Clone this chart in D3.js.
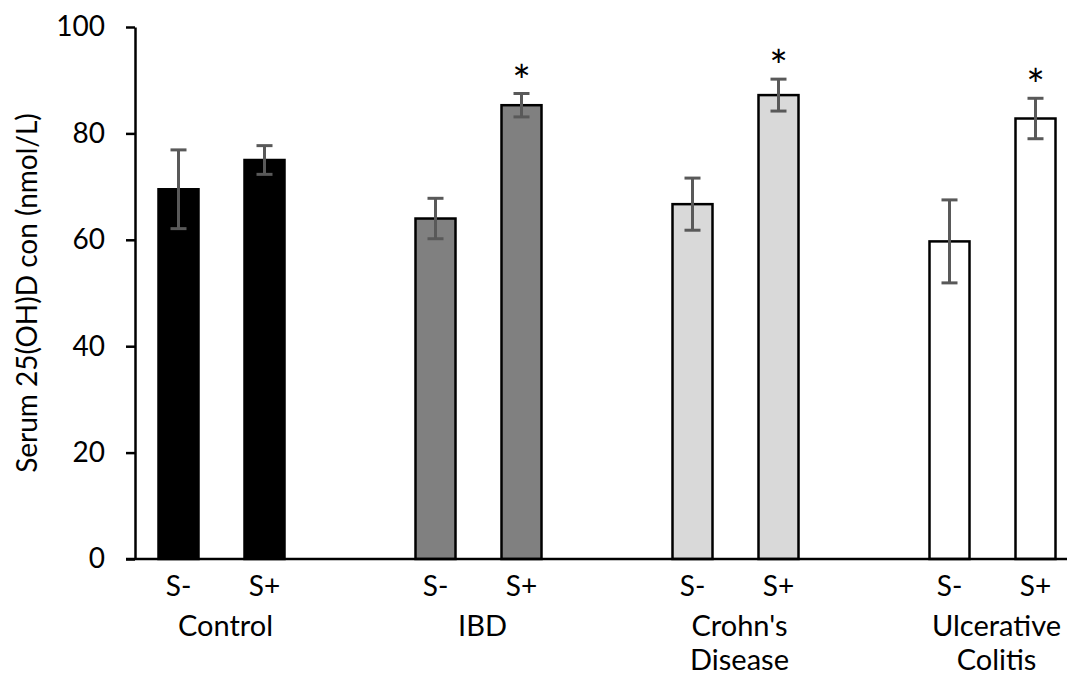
<!DOCTYPE html>
<html>
<head>
<meta charset="utf-8">
<script src="https://cdn.jsdelivr.net/npm/d3@7"></script>
<style>
  body { margin: 0; background: #fff; }
  text { font-family: Lato, "Open Sans", sans-serif; fill: #000; }
</style>
</head>
<body>
<div id="chart"></div>
<script>
const width = 1067
const height = 677

// values
const groups = ["Control", "IBD", "Crohn's Disease", "Ulcerative Colitis"]
const groupLines = [["Control"], ["IBD"], ["Crohn's", "Disease"], ["Ulcerative", "Colitis"]]
const subgroups = ["S-", "S+"]
const groupColors = ["#000000", "#808080", "#d9d9d9", "#ffffff"]
const means = [[69.5, 75.0], [64.0, 85.3], [66.7, 87.2], [59.7, 82.8]]
const errors = [[7.4, 2.7], [3.8, 2.2], [4.9, 3.0], [7.8, 3.8]]
const significant = [[false, false], [false, true], [false, true], [false, true]]
const yTicks = [0, 20, 40, 60, 80, 100]

const axisX = 135
const axisBottom = 559
const axisTop = 27
const barWidth = 40

const svg = d3.select("#chart").append("svg")
    .attr("width", width)
    .attr("height", height)

const y = d3.scaleLinear().domain([0, 100]).range([axisBottom, axisTop])

// groups sit on a band scale, the two bars in each group on a point scale
const x = d3.scaleBand().domain(groups).range([93, 93 + 257 * 4])
const xSub = d3.scalePoint().domain(subgroups).range([-43, 43])

function groupCenter(g) { return x(g) + x.bandwidth() / 2 }

// y axis
const yAxis = svg.append("g")
    .attr("transform", "translate(" + axisX + ",0)")
    .call(d3.axisLeft(y).tickValues(yTicks).tickSize(9).tickPadding(21).tickSizeOuter(0))
yAxis.select(".domain").attr("stroke", "#000").attr("stroke-width", 2.5)
yAxis.selectAll(".tick line").attr("stroke", "#000").attr("stroke-width", 2.5)
yAxis.selectAll(".tick text")
    .style("font-size", "28px")
    .style("font-family", "Lato, 'Open Sans', sans-serif")
    .attr("fill", "#000")

svg.append("text")
    .attr("transform", "translate(30," + ((axisTop + axisBottom) / 2) + ") rotate(-90)")
    .attr("text-anchor", "middle")
    .attr("dominant-baseline", "middle")
    .style("font-size", "28px")
    .text("Serum 25(OH)D con (nmol/L)")

// bars
const rows = []
groups.forEach(function(g, gi) {
  subgroups.forEach(function(s, si) {
    rows.push({group: g, gi: gi, sub: s, mean: means[gi][si], err: errors[gi][si], sig: significant[gi][si]})
  })
})

const bar = svg.append("g").selectAll("g")
    .data(rows)
    .enter().append("g")
    .attr("transform", function(d) { return "translate(" + (groupCenter(d.group) + xSub(d.sub)) + ",0)" })

bar.append("rect")
    .attr("x", -barWidth / 2)
    .attr("width", barWidth)
    .attr("y", function(d) { return y(d.mean) })
    .attr("height", function(d) { return y(0) - y(d.mean) })
    .attr("fill", function(d) { return groupColors[d.gi] })
    .attr("stroke", "#000")
    .attr("stroke-width", 2.5)

// error bars
const errColor = "#595959"
bar.append("line")
    .attr("y1", function(d) { return y(d.mean - d.err) })
    .attr("y2", function(d) { return y(d.mean + d.err) })
    .attr("stroke", errColor).attr("stroke-width", 3)
bar.append("line")
    .attr("x1", -8).attr("x2", 8)
    .attr("y1", function(d) { return y(d.mean + d.err) })
    .attr("y2", function(d) { return y(d.mean + d.err) })
    .attr("stroke", errColor).attr("stroke-width", 3)
bar.append("line")
    .attr("x1", -8).attr("x2", 8)
    .attr("y1", function(d) { return y(d.mean - d.err) })
    .attr("y2", function(d) { return y(d.mean - d.err) })
    .attr("stroke", errColor).attr("stroke-width", 3)

bar.filter(function(d) { return d.sig }).append("text")
    .attr("y", function(d) { return y(d.mean + d.err) + 3 })
    .attr("text-anchor", "middle")
    .style("font-size", "44px")
    .text("*")

// x axis line (no ticks)
svg.append("line")
    .attr("x1", axisX - 9).attr("x2", width)
    .attr("y1", axisBottom).attr("y2", axisBottom)
    .attr("stroke", "#000").attr("stroke-width", 2.5)

bar.append("text")
    .attr("y", 585)
    .attr("text-anchor", "middle")
    .attr("dominant-baseline", "central")
    .style("font-size", "28px")
    .text(function(d) { return d.sub })

const groupLabel = svg.append("g").selectAll("text")
    .data(groups)
    .enter().append("text")
    .attr("x", function(g) { return groupCenter(g) + 4 })
    .attr("text-anchor", "middle")
    .style("font-size", "29px")

groupLabel.selectAll("tspan")
    .data(function(g, i) { return groupLines[i] })
    .enter().append("tspan")
    .attr("x", function() { return d3.select(this.parentNode).attr("x") })
    .attr("y", function(d, i) { return 624 + i * 34 })
    .attr("dominant-baseline", "central")
    .text(function(d) { return d })
</script>
</body>
</html>
